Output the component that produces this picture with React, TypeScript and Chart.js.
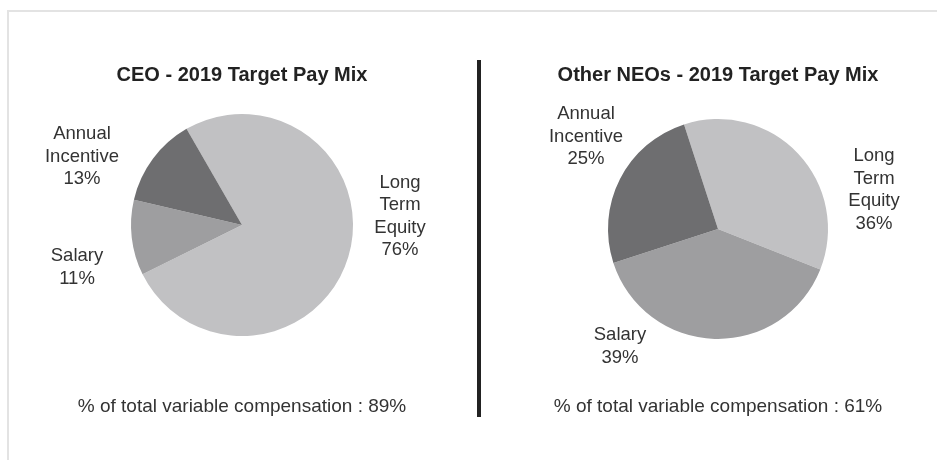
import React, { useEffect, useRef } from 'react';
import { Chart, registerables } from 'chart.js';

Chart.register(...registerables);

// ---- data ----
const categories = ['Long Term Equity', 'Salary', 'Annual Incentive'];
const labelLines = [['Long', 'Term', 'Equity'], ['Salary'], ['Annual', 'Incentive']];
const ceoValues = [76, 11, 13];
const neoValues = [36, 39, 25];
const titles = ['CEO - 2019 Target Pay Mix', 'Other NEOs - 2019 Target Pay Mix'];
const variableShares = [89, 61];

// ---- styling / layout ----
const sliceColors = ['#c1c1c3', '#9e9ea0', '#6e6e70'];
const FONT = '"Liberation Sans", Arial, Helvetica, sans-serif';
const LINE_H = 22.5;

const panels = [
  {
    values: ceoValues,
    title: titles[0],
    variable: variableShares[0],
    rotation: -30,
    left: 0,
    width: 478,
    padding: { left: 131, top: 114, right: 125, bottom: 124 },
    labelOffsets: [[158, -10], [-165, 41], [-160, -70]],
  },
  {
    values: neoValues,
    title: titles[1],
    variable: variableShares[1],
    rotation: -18,
    left: 478,
    width: 459,
    padding: { left: 130, top: 119, right: 109, bottom: 121 },
    labelOffsets: [[156, -40.5], [-98, 116], [-132, -94]],
  },
];

const textPlugin = {
  id: 'payMixText',
  afterDraw(chart: any) {
    const opts = chart.options.plugins.payMixText;
    const meta = chart.getDatasetMeta(0);
    const arc0: any = meta.data[0];
    if (!arc0) return;
    const cx = arc0.x;
    const cy = arc0.y;
    const ctx = chart.ctx;
    ctx.save();
    ctx.textAlign = 'center';
    ctx.textBaseline = 'alphabetic';
    ctx.fillStyle = '#222';
    ctx.font = `bold 20px ${FONT}`;
    ctx.fillText(opts.title, cx, 81);

    ctx.font = `18.5px ${FONT}`;
    ctx.fillStyle = '#333';
    const values = chart.data.datasets[0].data;
    labelLines.forEach((lines, i) => {
      const all = [...lines, `${values[i]}%`];
      const [dx, dy] = opts.labelOffsets[i];
      const n = all.length;
      all.forEach((t, j) => {
        const y = cy + dy + (j - (n - 1) / 2) * LINE_H + 6.5;
        ctx.fillText(t, cx + dx, y);
      });
    });

    ctx.font = `19px ${FONT}`;
    ctx.fillStyle = '#333';
    ctx.fillText(`% of total variable compensation : ${opts.variable}%`, cx, 412);
    ctx.restore();
  },
};

function PiePanel({ panel }: { panel: any }) {
  const ref = useRef<HTMLCanvasElement | null>(null);
  useEffect(() => {
    if (!ref.current) return;
    const chart = new Chart(ref.current, {
      type: 'pie',
      data: {
        labels: categories,
        datasets: [
          {
            data: panel.values,
            backgroundColor: sliceColors,
            borderWidth: 0,
          },
        ],
      },
      options: {
        responsive: false,
        animation: false,
        events: [],
        rotation: panel.rotation,
        layout: { padding: panel.padding },
        plugins: {
          legend: { display: false },
          tooltip: { enabled: false },
          title: { display: false },
          payMixText: {
            title: panel.title,
            variable: panel.variable,
            labelOffsets: panel.labelOffsets,
          },
        } as any,
      },
      plugins: [textPlugin],
    });
    return () => chart.destroy();
  }, [panel]);
  return (
    <canvas
      ref={ref}
      width={panel.width}
      height={460}
      style={{ position: 'absolute', left: panel.left, top: 0, width: panel.width, height: 460 }}
    />
  );
}

export default function App() {
  return (
    <div style={{ position: 'absolute', left: 0, top: 0, width: 937, height: 460, background: '#fff', overflow: 'hidden' }}>
      <div
        style={{
          position: 'absolute',
          left: 7,
          top: 10,
          width: 940,
          height: 460,
          borderTop: '2px solid #e3e3e3',
          borderLeft: '2px solid #e3e3e3',
        }}
      />
      {panels.map((p, i) => (
        <PiePanel key={i} panel={p} />
      ))}
      <div style={{ position: 'absolute', left: 477, top: 60, width: 4, height: 357, background: '#222' }} />
    </div>
  );
}
